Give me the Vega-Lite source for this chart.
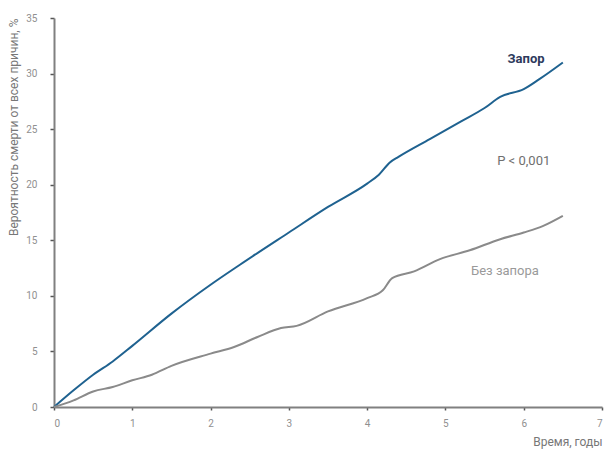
{
  "$schema": "https://vega.github.io/schema/vega-lite/v6.json",
  "width": 548,
  "height": 389,
  "autosize": "none",
  "padding": {"left": 54, "top": 18, "right": 8, "bottom": 46},
  "background": "white",
  "config": {"view": {"stroke": null}, "font": "Roboto"},
  "datasets": {
    "lines": [
      {"t": 0, "p": 0, "g": "Запор"},
      {"t": 0.25, "p": 1.5, "g": "Запор"},
      {"t": 0.5, "p": 2.9, "g": "Запор"},
      {"t": 0.75, "p": 4.1, "g": "Запор"},
      {"t": 1, "p": 5.5, "g": "Запор"},
      {"t": 1.5, "p": 8.4, "g": "Запор"},
      {"t": 2, "p": 11.0, "g": "Запор"},
      {"t": 2.375, "p": 12.8, "g": "Запор"},
      {"t": 3, "p": 15.7, "g": "Запор"},
      {"t": 3.5, "p": 18.0, "g": "Запор"},
      {"t": 4, "p": 20.1, "g": "Запор"},
      {"t": 4.15, "p": 20.9, "g": "Запор"},
      {"t": 4.29, "p": 22.0, "g": "Запор"},
      {"t": 4.4, "p": 22.5, "g": "Запор"},
      {"t": 4.8, "p": 24.1, "g": "Запор"},
      {"t": 5.2, "p": 25.7, "g": "Запор"},
      {"t": 5.5, "p": 26.9, "g": "Запор"},
      {"t": 5.7, "p": 27.9, "g": "Запор"},
      {"t": 6.0, "p": 28.6, "g": "Запор"},
      {"t": 6.2, "p": 29.5, "g": "Запор"},
      {"t": 6.5, "p": 31.0, "g": "Запор"},
      {"t": 0, "p": 0, "g": "Без запора"},
      {"t": 0.25, "p": 0.6, "g": "Без запора"},
      {"t": 0.5, "p": 1.4, "g": "Без запора"},
      {"t": 0.75, "p": 1.8, "g": "Без запора"},
      {"t": 1, "p": 2.4, "g": "Без запора"},
      {"t": 1.25, "p": 2.9, "g": "Без запора"},
      {"t": 1.5, "p": 3.7, "g": "Без запора"},
      {"t": 2, "p": 4.8, "g": "Без запора"},
      {"t": 2.3, "p": 5.4, "g": "Без запора"},
      {"t": 2.6, "p": 6.3, "g": "Без запора"},
      {"t": 2.9, "p": 7.1, "g": "Без запора"},
      {"t": 3.1, "p": 7.3, "g": "Без запора"},
      {"t": 3.5, "p": 8.6, "g": "Без запора"},
      {"t": 4, "p": 9.8, "g": "Без запора"},
      {"t": 4.2, "p": 10.5, "g": "Без запора"},
      {"t": 4.32, "p": 11.6, "g": "Без запора"},
      {"t": 4.6, "p": 12.2, "g": "Без запора"},
      {"t": 4.93, "p": 13.3, "g": "Без запора"},
      {"t": 5.31, "p": 14.1, "g": "Без запора"},
      {"t": 5.7, "p": 15.1, "g": "Без запора"},
      {"t": 6.0, "p": 15.7, "g": "Без запора"},
      {"t": 6.25, "p": 16.3, "g": "Без запора"},
      {"t": 6.5, "p": 17.2, "g": "Без запора"}
    ],
    "labels": [
      {"t": 6.03, "p": 31.3, "txt": "Запор", "k": "a"},
      {"t": 6.0, "p": 22.1, "txt": "P < 0,001", "k": "b"},
      {"t": 5.76, "p": 12.2, "txt": "Без запора", "k": "c"}
    ]
  },
  "layer": [
    {
      "data": {"name": "lines"},
      "mark": {"type": "line", "strokeWidth": 2, "interpolate": "monotone"},
      "encoding": {
        "x": {
          "field": "t", "type": "quantitative",
          "scale": {"domain": [0, 7], "nice": false},
          "axis": {
            "title": "Время, годы", "titleAnchor": "end", "titleAlign": "right",
            "titleFont": "Roboto", "titleFontWeight": "normal", "titleFontSize": 12, "titleColor": "#777777",
            "titlePadding": 8,
            "values": [0, 1, 2, 3, 4, 5, 6, 7], "format": "d",
            "grid": false, "domainColor": "#808080", "domainWidth": 2,
            "tickColor": "#555555", "tickSize": 3, "tickWidth": 1.5,
            "labelColor": "#909090", "labelFontSize": 10, "labelPadding": 8
          }
        },
        "y": {
          "field": "p", "type": "quantitative",
          "scale": {"domain": [0, 35], "nice": false},
          "axis": {
            "title": "Вероятность смерти от всех причин, %", "titleAnchor": "end",
            "titleFont": "Roboto", "titleFontWeight": "normal", "titleFontSize": 12, "titleColor": "#777777",
            "titlePadding": 5,
            "values": [0, 5, 10, 15, 20, 25, 30, 35],
            "grid": false, "domainColor": "#808080", "domainWidth": 2,
            "tickColor": "#555555", "tickSize": 4, "tickWidth": 1.5,
            "labelColor": "#909090", "labelFontSize": 10, "labelPadding": 13
          }
        },
        "color": {
          "field": "g", "type": "nominal",
          "scale": {"domain": ["Запор", "Без запора"], "range": ["#1f6290", "#8a8a8a"]},
          "legend": null
        },
        "detail": {"field": "g"}
      }
    },
    {
      "data": {"name": "labels"},
      "transform": [{"filter": "datum.k == 'a'"}],
      "mark": {"type": "text", "fontSize": 13, "font": "Roboto", "fontWeight": "bold", "color": "#2e3a5c"},
      "encoding": {
        "x": {"field": "t", "type": "quantitative"},
        "y": {"field": "p", "type": "quantitative"},
        "text": {"field": "txt"}
      }
    },
    {
      "data": {"name": "labels"},
      "transform": [{"filter": "datum.k == 'b'"}],
      "mark": {"type": "text", "fontSize": 13, "font": "Roboto", "color": "#6f6f6f"},
      "encoding": {
        "x": {"field": "t", "type": "quantitative"},
        "y": {"field": "p", "type": "quantitative"},
        "text": {"field": "txt"}
      }
    },
    {
      "data": {"name": "labels"},
      "transform": [{"filter": "datum.k == 'c'"}],
      "mark": {"type": "text", "fontSize": 13, "font": "Roboto", "color": "#9a9a9a"},
      "encoding": {
        "x": {"field": "t", "type": "quantitative"},
        "y": {"field": "p", "type": "quantitative"},
        "text": {"field": "txt"}
      }
    }
  ]
}
